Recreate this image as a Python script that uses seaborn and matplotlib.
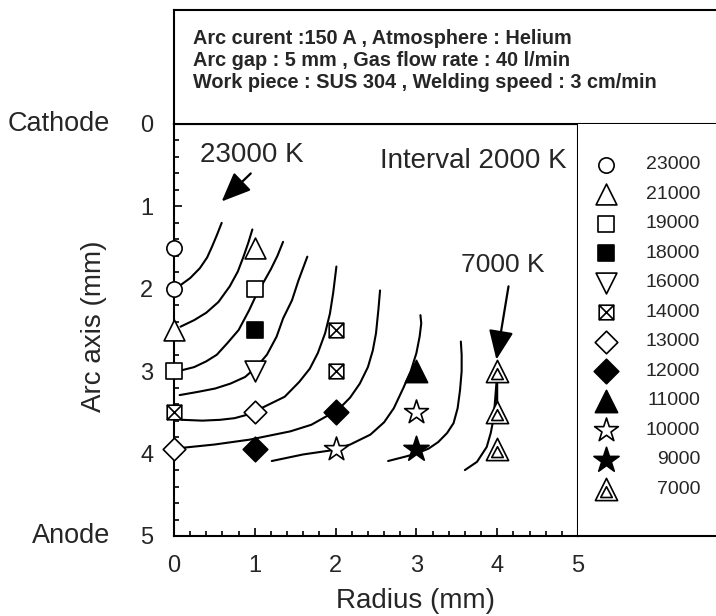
import matplotlib.pyplot as plt
import seaborn as sns
from matplotlib.path import Path
from matplotlib.ticker import MultipleLocator

# Temperature levels (legend order) and the measured points (radius, arc axis)
LEVELS = ["23000", "21000", "19000", "18000", "16000", "14000",
          "13000", "12000", "11000", "10000", "9000", "7000"]
R_23000, Z_23000 = [0, 0], [1.5, 2.0]
R_21000, Z_21000 = [0, 1], [2.5, 1.5]
R_19000, Z_19000 = [0, 1], [3.0, 2.0]
R_18000, Z_18000 = [1], [2.5]
R_16000, Z_16000 = [1], [3.0]
R_14000, Z_14000 = [0, 2, 2], [3.5, 2.5, 3.0]
R_13000, Z_13000 = [0, 1], [3.95, 3.5]
R_12000, Z_12000 = [1, 2], [3.95, 3.5]
R_11000, Z_11000 = [3], [3.0]
R_10000, Z_10000 = [2, 3], [3.95, 3.5]
R_9000, Z_9000 = [3], [3.95]
R_7000, Z_7000 = [4, 4, 4], [3.0, 3.5, 3.95]

POINTS = {
    "23000": (R_23000, Z_23000), "21000": (R_21000, Z_21000),
    "19000": (R_19000, Z_19000), "18000": (R_18000, Z_18000),
    "16000": (R_16000, Z_16000), "14000": (R_14000, Z_14000),
    "13000": (R_13000, Z_13000), "12000": (R_12000, Z_12000),
    "11000": (R_11000, Z_11000), "10000": (R_10000, Z_10000),
    "9000": (R_9000, Z_9000), "7000": (R_7000, Z_7000),
}

# Isotherms (radius, arc axis)
ISO_A_R = [0.06, 0.20, 0.32, 0.41, 0.47, 0.53, 0.59]
ISO_A_Z = [1.97, 1.87, 1.75, 1.62, 1.49, 1.35, 1.20]
ISO_B_R = [0.08, 0.25, 0.40, 0.55, 0.69, 0.79, 0.86, 0.92, 0.97]
ISO_B_Z = [2.46, 2.38, 2.29, 2.16, 1.97, 1.79, 1.61, 1.44, 1.28]
ISO_C_R = [0.09, 0.25, 0.40, 0.53, 0.66, 0.80, 0.93, 1.03, 1.12, 1.20, 1.28, 1.35]
ISO_C_Z = [2.99, 2.95, 2.88, 2.80, 2.66, 2.50, 2.26, 2.05, 1.90, 1.76, 1.60, 1.43]
ISO_D_R = [0.07, 0.30, 0.51, 0.70, 0.88, 1.02, 1.15, 1.27, 1.35, 1.46, 1.54, 1.65]
ISO_D_Z = [3.29, 3.25, 3.21, 3.15, 3.07, 2.95, 2.80, 2.58, 2.36, 2.14, 1.90, 1.61]
ISO_E_R = [0.10, 0.35, 0.57, 0.75, 0.90, 1.12, 1.37, 1.55, 1.68, 1.78, 1.87, 1.93, 1.97, 2.01]
ISO_E_Z = [3.59, 3.60, 3.59, 3.57, 3.53, 3.43, 3.31, 3.13, 2.97, 2.78, 2.54, 2.30, 2.05, 1.73]
ISO_F_R = [0.10, 0.50, 0.94, 1.44, 1.70, 1.90, 2.05, 2.18, 2.30, 2.40, 2.46, 2.50, 2.53, 2.55]
ISO_F_Z = [3.93, 3.89, 3.83, 3.73, 3.65, 3.54, 3.45, 3.32, 3.15, 2.95, 2.75, 2.54, 2.25, 2.02]
ISO_G_R = [1.21, 1.60, 1.95, 2.18, 2.43, 2.60, 2.72, 2.84, 2.93, 3.00, 3.04, 3.06, 3.05]
ISO_G_Z = [4.09, 4.01, 3.96, 3.89, 3.77, 3.62, 3.45, 3.20, 3.00, 2.78, 2.58, 2.42, 2.32]
ISO_H_R = [2.65, 2.85, 3.00, 3.15, 3.27, 3.38, 3.46, 3.51, 3.54, 3.56, 3.56, 3.55]
ISO_H_Z = [4.09, 4.04, 4.00, 3.94, 3.86, 3.75, 3.63, 3.45, 3.23, 3.00, 2.80, 2.64]
ISO_I_R = [3.60, 3.75, 3.87, 3.92, 3.95, 3.97, 3.99, 4.00, 4.00]
ISO_I_Z = [4.20, 4.10, 3.92, 3.75, 3.60, 3.40, 3.15, 3.00, 3.50]

ISOTHERMS = [(ISO_A_R, ISO_A_Z), (ISO_B_R, ISO_B_Z), (ISO_C_R, ISO_C_Z),
             (ISO_D_R, ISO_D_Z), (ISO_E_R, ISO_E_Z), (ISO_F_R, ISO_F_Z),
             (ISO_G_R, ISO_G_Z), (ISO_H_R, ISO_H_Z), (ISO_I_R, ISO_I_Z)]

# Beschriftungen mit Pfeil: Text, Textposition, Pfeilanfang, Pfeilspitze
CALLOUTS = [
    ("23000 K", (0.96, 0.38), (0.95, 0.60), (0.59, 0.94), 20),
    ("7000 K", (4.07, 1.71), (4.14, 1.97), (3.99, 2.86), 19),
]

HEADER = ["Arc curent :150 A , Atmosphere : Helium",
          "Arc gap : 5 mm , Gas flow rate : 40 l/min",
          "Work piece : SUS 304 , Welding speed : 3 cm/min"]

# Spezialmarker: Quadrat mit Kreuz, Doppel-Dreieck
M, L, C = Path.MOVETO, Path.LINETO, Path.CLOSEPOLY
BOX_X = Path([(-1, -1), (1, -1), (1, 1), (-1, 1), (-1, -1),
              (-1, -1), (1, 1), (-1, 1), (1, -1)],
             [M, L, L, L, C, M, L, M, L])
DOUBLE_TRI = Path([(0, 1), (-1, -1), (1, -1), (0, 1),
                   (0, 0.25), (-0.52, -0.72), (0.52, -0.72), (0, 0.25)],
                  [M, L, L, C, M, L, L, C])

STYLES = {
    "23000": ("o", 11, "white"), "21000": ("^", 15, "white"),
    "19000": ("s", 11, "white"), "18000": ("s", 11.5, "black"),
    "16000": ("v", 15, "white"), "14000": (BOX_X, 10.5, "white"),
    "13000": ("D", 11.5, "white"), "12000": ("D", 12.5, "black"),
    "11000": ("^", 16, "black"), "10000": ("*", 18, "white"),
    "9000": ("*", 19, "black"), "7000": (DOUBLE_TRI, 16, "white"),
}

sns.set_theme(style="white")
plt.rcParams["font.family"] = ["Liberation Sans", "DejaVu Sans"]

W, H = 716, 616


def fig_rect(x0, y0, x1, y1):
    return [x0 / W, 1 - y1 / H, (x1 - x0) / W, (y1 - y0) / H]


fig = plt.figure(figsize=(W / 100, H / 100), dpi=100)
ax = fig.add_axes(fig_rect(174, 124, 578, 536))
hx = fig.add_axes(fig_rect(174, 10, 716, 124))
lx = fig.add_axes(fig_rect(578, 124, 716, 536))

# Isothermen
for rr, zz in ISOTHERMS:
    sns.lineplot(x=rr, y=zz, sort=False, estimator=None, color="black",
                 linewidth=1.5, ax=ax)

# Messpunkte
for level in LEVELS:
    rr, zz = POINTS[level]
    marker, ms, face = STYLES[level]
    sns.scatterplot(x=rr, y=zz, marker=marker, s=ms ** 2, color=face,
                    edgecolor="black", linewidth=1.2, zorder=5,
                    clip_on=False, ax=ax)

ax.set_xlim(0, 5)
ax.set_ylim(5, 0)
ax.set_xticks(range(6))
ax.set_yticks(range(6))
ax.xaxis.set_minor_locator(MultipleLocator(0.2))
ax.yaxis.set_minor_locator(MultipleLocator(0.2))
ax.tick_params(which="both", direction="in", top=False, right=False,
               bottom=True, left=True, color="black", width=1.2)
ax.tick_params(which="major", length=6, labelsize=17)
ax.tick_params(which="minor", length=3.5)
ax.tick_params(axis="y", pad=15)
ax.tick_params(axis="x", pad=14)
for sp in ax.spines.values():
    sp.set_color("black")
    sp.set_linewidth(1.5)

ax.set_xlabel("Radius (mm)", fontsize=20)
ax.xaxis.set_label_coords(0.597, -0.125)
ax.set_ylabel("Arc axis (mm)", fontsize=20)
ax.yaxis.set_label_coords(-0.165, 0.51)

for name, z in (("Cathode", 0), ("Anode", 5)):
    ax.annotate(name, xy=(0, z), xycoords=("axes fraction", "data"),
                xytext=(-46, 0), textcoords="offset points",
                ha="right", va="center", fontsize=19.5)

arrow = dict(arrowstyle="-|>,head_length=0.9,head_width=0.38",
             color="black", lw=1.6, mutation_scale=20, shrinkA=0, shrinkB=0)
for label, text_pos, tail, tip, size in CALLOUTS:
    ax.text(*text_pos, label, ha="center", va="center", fontsize=size)
    ax.annotate("", xy=tip, xytext=tail, arrowprops=arrow)
ax.text(3.71, 0.45, "Interval 2000 K", ha="center", va="center", fontsize=20)

# Kopfzeile mit Versuchsbedingungen
hx.set_xticks([])
hx.set_yticks([])
hx.spines["right"].set_visible(False)
for sp in ("left", "top", "bottom"):
    hx.spines[sp].set_color("black")
    hx.spines[sp].set_linewidth(1.5)
for i, line in enumerate(HEADER):
    hx.text(0.035, 0.75 - i * 0.193, line, transform=hx.transAxes,
            ha="left", va="center", fontsize=14.3, fontweight="bold")

# Legende als eigenes Feld rechts
lx.set_xlim(0, 1)
lx.set_ylim(12.58, -1.39)
lx.set_xticks([])
lx.set_yticks([])
for sp in ("left", "top", "right"):
    lx.spines[sp].set_visible(False)
lx.spines["bottom"].set_color("black")
lx.spines["bottom"].set_linewidth(1.5)
for i, level in enumerate(LEVELS):
    marker, ms, face = STYLES[level]
    lx.scatter([0.2], [i], marker=marker, s=ms ** 2, color=face,
               edgecolor="black", linewidth=1.2, zorder=5)
    lx.text(0.885, i, level, ha="right", va="center", fontsize=14)

fig.savefig("out.png", dpi=100)
